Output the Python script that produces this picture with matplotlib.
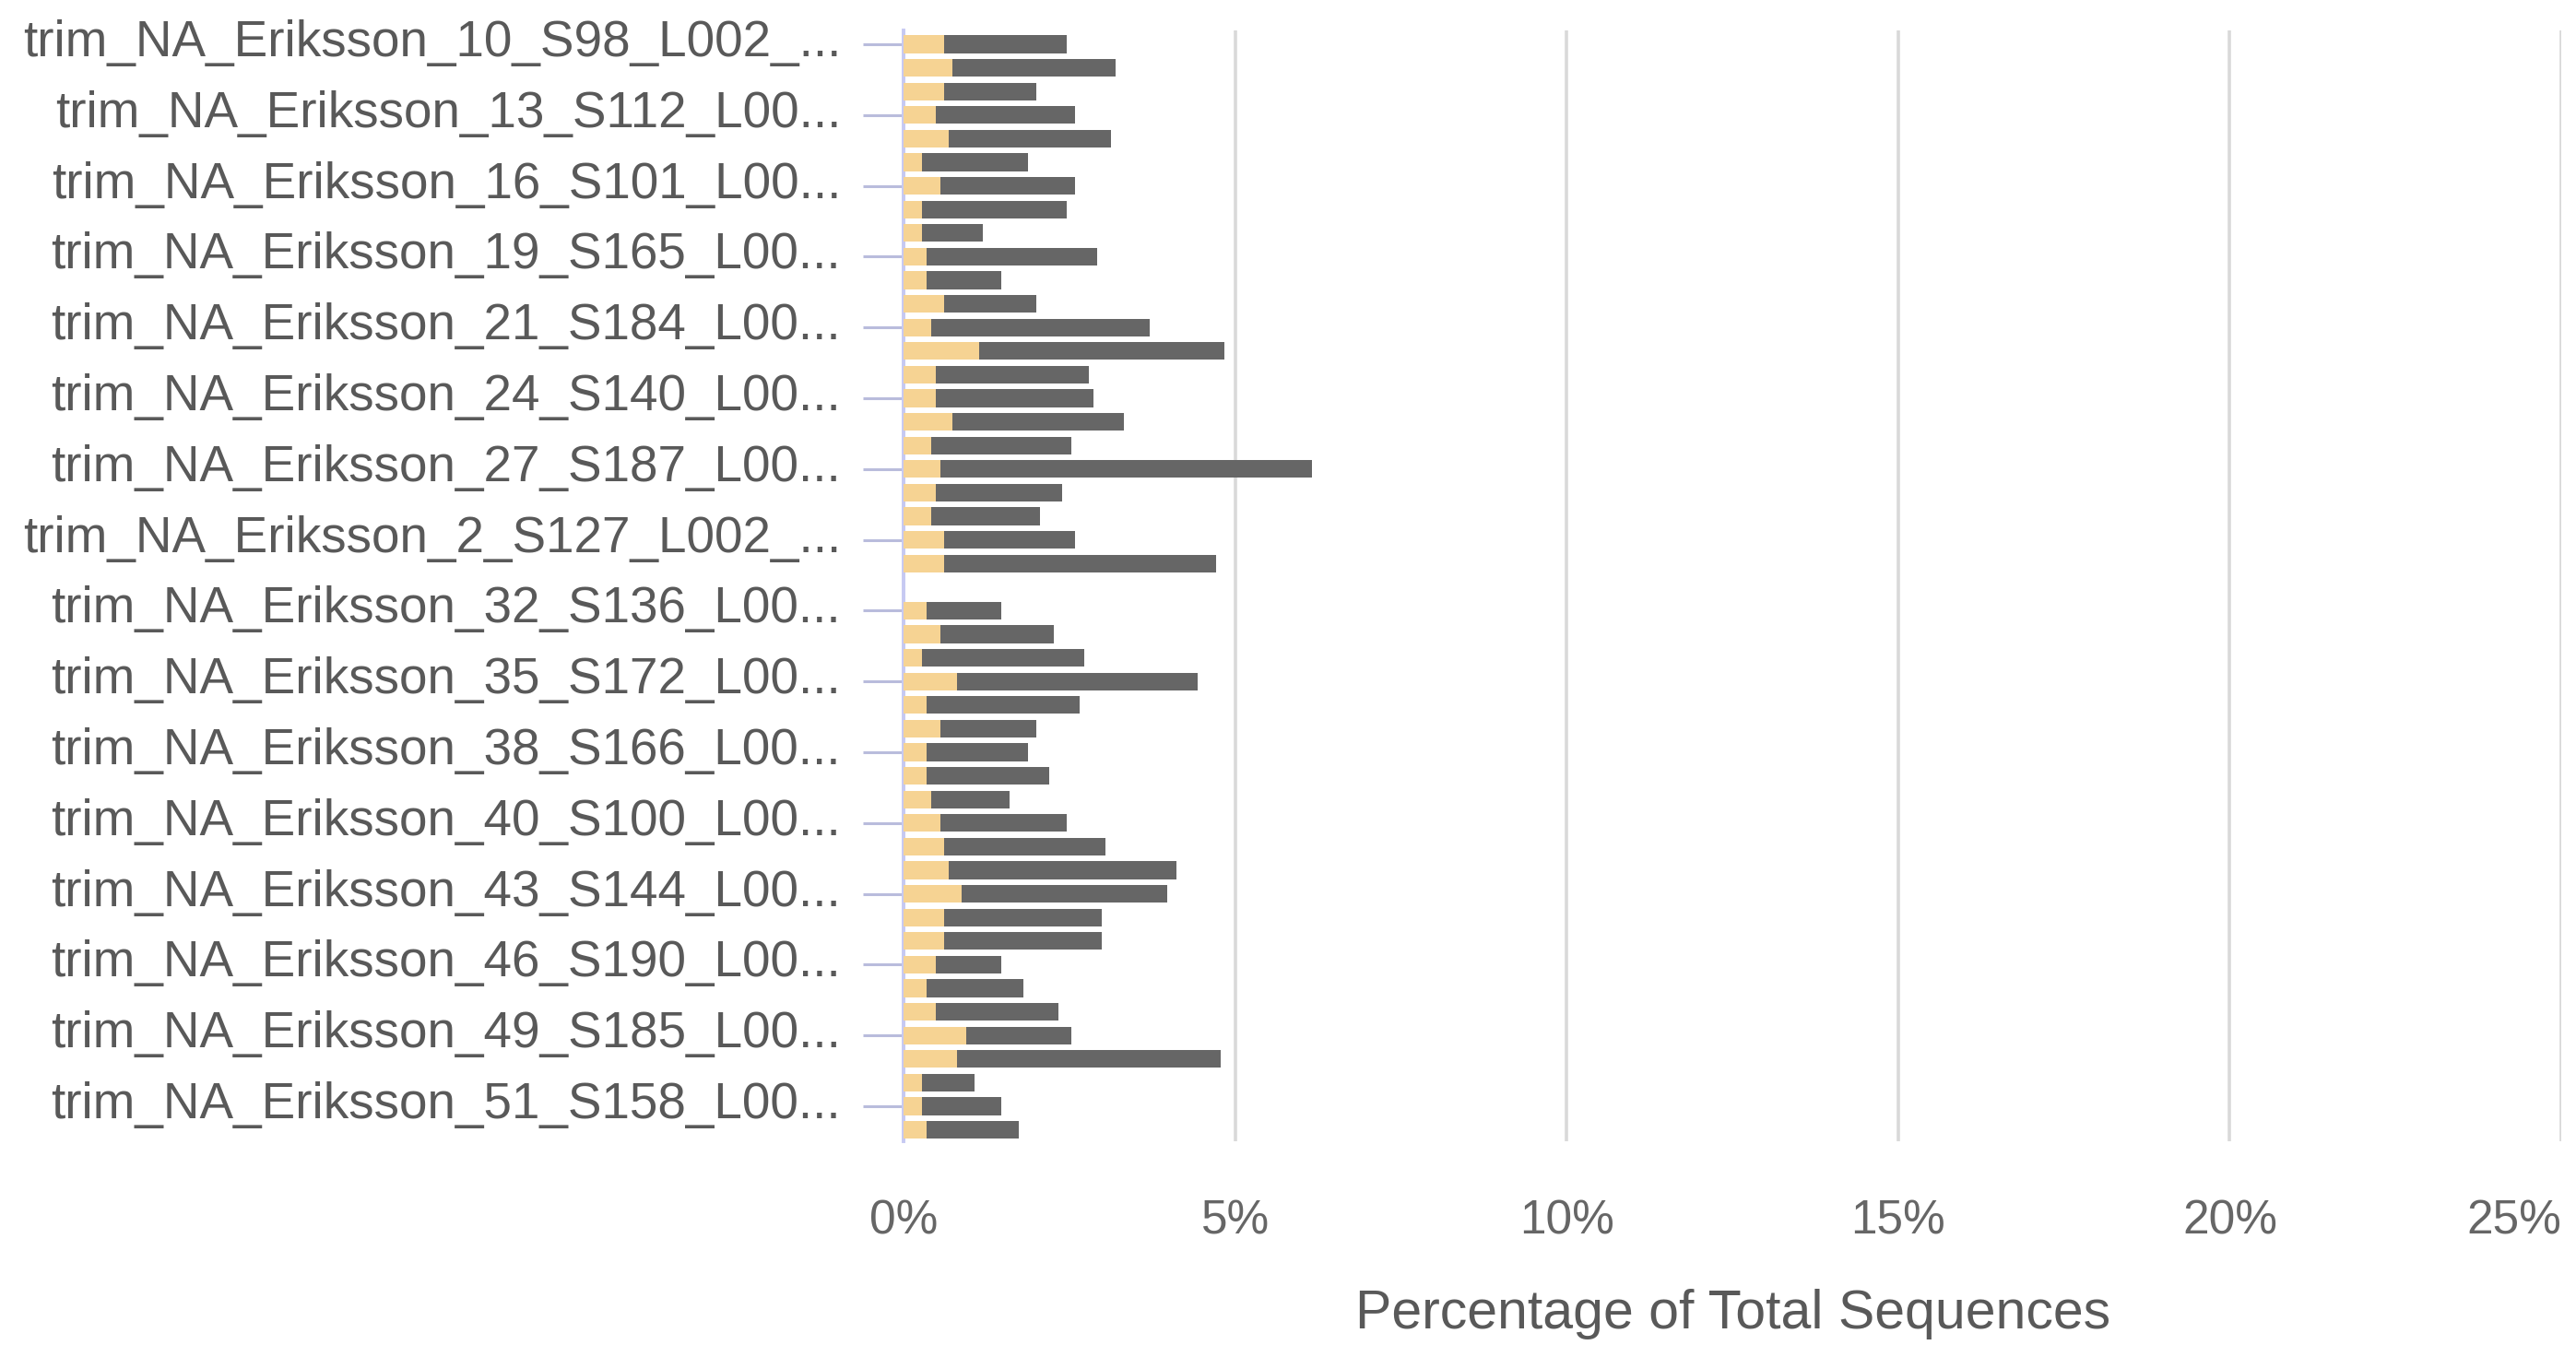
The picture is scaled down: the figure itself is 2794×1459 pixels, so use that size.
import matplotlib
matplotlib.use("Agg")
import matplotlib.pyplot as plt
import numpy as np
from matplotlib.ticker import FuncFormatter
from matplotlib.transforms import ScaledTranslation

plt.rcParams["font.family"] = ["Liberation Sans", "DejaVu Sans"]

# one row per sample, top to bottom; only every third sample name is shown
tick_labels = [
    "trim_NA_Eriksson_10_S98_L002_...",
    "trim_NA_Eriksson_13_S112_L00...",
    "trim_NA_Eriksson_16_S101_L00...",
    "trim_NA_Eriksson_19_S165_L00...",
    "trim_NA_Eriksson_21_S184_L00...",
    "trim_NA_Eriksson_24_S140_L00...",
    "trim_NA_Eriksson_27_S187_L00...",
    "trim_NA_Eriksson_2_S127_L002_...",
    "trim_NA_Eriksson_32_S136_L00...",
    "trim_NA_Eriksson_35_S172_L00...",
    "trim_NA_Eriksson_38_S166_L00...",
    "trim_NA_Eriksson_40_S100_L00...",
    "trim_NA_Eriksson_43_S144_L00...",
    "trim_NA_Eriksson_46_S190_L00...",
    "trim_NA_Eriksson_49_S185_L00...",
    "trim_NA_Eriksson_51_S158_L00...",
]

# yellow segment (%)
light = [
    0.61, 0.74, 0.61, 0.48, 0.68, 0.28, 0.55, 0.28, 0.28, 0.35,
    0.35, 0.61, 0.41, 1.14, 0.48, 0.48, 0.74, 0.41, 0.55, 0.48,
    0.41, 0.61, 0.61, 0.00, 0.35, 0.55, 0.28, 0.81, 0.35, 0.55,
    0.35, 0.35, 0.41, 0.55, 0.61, 0.68, 0.88, 0.61, 0.61, 0.48,
    0.35, 0.48, 0.94, 0.81, 0.28, 0.28, 0.35,
]
# total bar length (%)
total = [
    2.46, 3.19, 2.00, 2.59, 3.12, 1.87, 2.59, 2.46, 1.20, 2.92,
    1.47, 2.00, 3.71, 4.84, 2.79, 2.86, 3.32, 2.53, 6.16, 2.39,
    2.06, 2.59, 4.71, 0.00, 1.47, 2.26, 2.73, 4.44, 2.66, 2.00,
    1.87, 2.20, 1.60, 2.46, 3.05, 4.11, 3.98, 2.99, 2.99, 1.47,
    1.80, 2.33, 2.53, 4.78, 1.07, 1.47, 1.73,
]

light = np.array(light)
dark = np.array(total) - light
rows = np.arange(len(light))

fig = plt.figure(figsize=(27.94, 14.59), dpi=100)
ax = fig.add_axes([0.3508, 0.1515, 0.6435, 0.8259])

ax.barh(rows, light, height=0.75, color="#F6D393", zorder=3)
ax.barh(rows, dark, left=light, height=0.75, color="#666666", zorder=3)

ax.set_xlim(0, 25)
ax.set_ylim(46.48, -0.59)

ax.set_xticks([0, 5, 10, 15, 20, 25])
ax.xaxis.set_major_formatter(FuncFormatter(lambda v, _: f"{v:.0f}%"))
ax.set_yticks(rows[::3])
ax.set_yticklabels(tick_labels)

ax.grid(axis="x", color="#d9d9d9", linewidth=2.6)
ax.set_axisbelow(True)

for side in ["top", "right", "bottom"]:
    ax.spines[side].set_visible(False)
ax.spines["left"].set_color("#c6c9f2")
ax.spines["left"].set_linewidth(2.8)

ax.tick_params(axis="y", length=32, width=2.2, color="#b9bcdc", pad=17,
               labelsize=39.5, labelcolor="#595959")
ax.tick_params(axis="x", length=0, pad=45, labelsize=37, labelcolor="#666666")

# names sit a little above their tick marks
nudge = ScaledTranslation(0, 0.07, fig.dpi_scale_trans)
for lbl in ax.get_yticklabels():
    lbl.set_transform(lbl.get_transform() + nudge)

# last percent label kept inside the figure
ax.get_xticklabels()[-1].set_horizontalalignment("right")

ax.set_xlabel("Percentage of Total Sequences", fontsize=42.5, color="#595959",
              labelpad=35)

fig.savefig("out.png", dpi=100, facecolor="white")
